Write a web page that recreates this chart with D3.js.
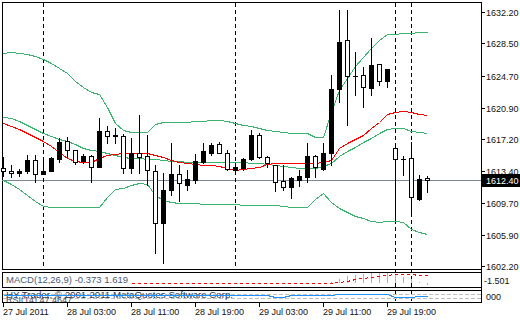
<!DOCTYPE html>
<html>
<head>
<meta charset="utf-8">
<script src="https://cdn.jsdelivr.net/npm/d3@7"></script>
<style>
  body { margin: 0; background: #fff; }
  svg { display: block; }
  text { font-family: "Liberation Sans", Arial, sans-serif; }
</style>
</head>
<body>
<div id="chart"></div>
<script>
// XAUUSD H1, 27 Jul 2011 19:00 .. 29 Jul 2011
var open = [1613.78,1613.46,1613.15,1613.46,1614.72,1613.07,1613.46,1614.88,1616.93,1615.90,
  1614.64,1615.19,1613.86,1618.15,1617.56,1617.56,1613.74,1615.58,1615.19,1613.46,
  1607.32,1611.18,1613.07,1611.77,1612.36,1614.52,1615.58,1616.61,1615.51,1613.54,
  1613.74,1614.80,1617.67,1615.04,1614.10,1612.24,1611.57,1612.36,1612.75,1615.19,
  1613.62,1615.51,1623.07,1628.89,1624.64,1624.76,1623.19,1626.06,1624.09,1616.10,
  1614.80,1614.92,1610.12,1612.60];
var high = [1615.08,1614.13,1613.66,1615.31,1615.31,1614.84,1615.11,1617.32,1617.44,1615.90,
  1615.43,1615.31,1619.65,1618.74,1618.54,1617.76,1617.28,1620.04,1617.67,1614.13,
  1613.19,1616.73,1614.13,1613.54,1615.43,1616.69,1616.77,1616.88,1615.90,1614.33,
  1614.92,1618.26,1617.87,1615.19,1614.10,1614.13,1612.75,1613.54,1616.73,1615.31,
  1616.69,1624.76,1632.44,1632.44,1627.51,1625.74,1629.09,1626.06,1625.43,1616.49,
  1615.19,1616.88,1612.95,1612.80];
var low = [1612.83,1612.71,1612.83,1613.19,1612.16,1613.07,1613.42,1614.52,1615.11,1614.21,
  1614.33,1612.16,1613.86,1616.77,1616.77,1613.15,1613.15,1613.15,1611.77,1603.70,
  1602.59,1610.59,1609.92,1611.18,1612.04,1614.33,1615.31,1615.51,1613.54,1613.34,
  1613.54,1614.72,1614.92,1613.93,1611.10,1611.18,1610.27,1611.65,1612.16,1612.75,
  1613.54,1614.13,1621.61,1618.86,1622.40,1620.95,1622.40,1623.58,1623.38,1607.64,
  1612.95,1608.23,1610.00,1610.98];
var close = [1613.42,1613.15,1613.46,1614.72,1613.07,1613.46,1614.99,1616.88,1615.90,1614.52,
  1615.19,1613.86,1618.15,1617.56,1617.71,1613.74,1615.58,1615.11,1613.54,1607.32,
  1611.18,1613.07,1611.97,1612.48,1614.60,1615.78,1616.49,1615.51,1613.62,1613.86,
  1614.80,1617.67,1615.11,1614.33,1612.16,1611.57,1612.56,1612.83,1615.19,1613.86,
  1615.51,1623.07,1628.69,1624.64,1624.64,1623.31,1625.94,1624.05,1625.43,1614.80,
  1614.80,1610.32,1612.44,1612.40];

// Bollinger bands (green) and moving average (red)
var bandUpper = [1627.36,1627.48,1627.36,1627.24,1627.00,1626.65,1626.18,1625.59,1625.00,1624.05,
  1623.34,1622.75,1622.52,1621.00,1619.09,1618.27,1618.03,1618.03,1618.03,1618.97,
  1619.21,1619.21,1619.21,1619.21,1619.33,1619.33,1619.45,1619.45,1619.33,1619.09,
  1618.86,1618.74,1618.50,1618.27,1618.15,1618.03,1617.91,1617.91,1617.91,1617.44,
  1617.44,1620.39,1622.99,1624.41,1625.82,1626.89,1627.95,1628.89,1629.60,1629.60,
  1629.72,1629.72,1629.84,1629.84];
var bandMiddle = [1619.80,1619.69,1619.33,1618.86,1618.38,1617.91,1617.56,1617.20,1616.97,1616.61,
  1616.14,1615.90,1615.79,1615.55,1615.31,1615.08,1614.96,1614.96,1614.84,1614.84,
  1614.72,1614.60,1614.60,1614.49,1614.49,1614.49,1614.49,1614.49,1614.49,1614.49,
  1614.49,1614.37,1614.37,1614.25,1614.13,1614.01,1613.90,1613.78,1613.78,1613.78,
  1614.01,1614.37,1615.20,1615.79,1616.26,1616.85,1617.32,1617.91,1618.38,1618.50,
  1618.50,1618.15,1618.03,1617.91];
var bandLower = [1612.36,1611.89,1611.30,1610.59,1609.88,1609.29,1609.17,1609.17,1609.17,1609.17,
  1609.17,1609.17,1609.17,1610.35,1611.30,1611.42,1611.77,1612.01,1611.89,1610.59,
  1610.00,1609.76,1609.64,1609.64,1609.64,1609.53,1609.53,1609.53,1609.53,1609.53,
  1609.41,1609.41,1609.41,1609.41,1609.41,1609.29,1609.17,1609.17,1609.17,1610.12,
  1610.82,1609.76,1609.05,1608.58,1608.11,1607.87,1607.52,1607.40,1607.52,1607.52,
  1607.40,1606.57,1606.22,1605.98];
var maRed = [1619.09,1618.74,1618.38,1617.91,1617.44,1616.97,1616.38,1615.67,1614.96,1614.60,
  1614.49,1614.49,1614.96,1615.31,1615.43,1615.55,1615.55,1615.55,1615.55,1615.31,
  1615.08,1614.72,1614.49,1614.37,1614.25,1614.13,1614.13,1614.01,1613.78,1613.54,
  1613.66,1613.78,1613.90,1614.25,1614.37,1614.37,1614.37,1614.37,1614.37,1614.37,
  1614.49,1614.72,1616.14,1616.73,1617.20,1617.67,1618.50,1619.21,1620.15,1620.39,
  1620.51,1620.39,1620.15,1620.04];

// MACD(12,26,9) pane
var macdMain = [0,0,0,0,0,0,0,0,0,0, 0,0,0,0,0,0,0,0,0,0,
  0,0,0,0,0,0,0,0,0,0, 0,0,0,0,0,0,0,0,0,0,
  0,0.2,0.9,1.4,1.7,1.9,2.0,2.1,2.1,1.8, 1.3,0.8,0.2,-0.373];
var macdSignal = [null,null,null,null,null,null,null,null,null,null, null,null,null,null,null,null,0.05,0.05,0.05,0.05,
  0.05,0.05,0.05,0.05,0.05,0.05,0.05,0.05,0.05,0.05, 0.05,0.05,0.05,0.05,0.05,0.05,0.05,0.05,0.05,0.05,
  0.05,0.05,0.3,0.5,0.8,1.1,1.35,1.55,1.75,1.84, 1.86,1.84,1.75,1.619];

// RSI(14) pane
var rsi = [60,60,60,60,60,60,60,60,60,60, 60,60,60,60,60,60,60,60,60,60,
  60,60,60,60,60,60,60,60,60,60, 60,60,60,58,44,44,58,58,58,58,
  58,62,65,65,65,65,65,65,65,44, 44,44,46,47.46];
var rsiLevels = [70, 30];

var priceTicks = [1632.20, 1628.50, 1624.70, 1620.90, 1617.20, 1613.40, 1609.70, 1605.90, 1602.20];
var lastPrice = 1612.40;
var timeTickIndex = [0, 8, 16, 24, 32, 40, 48];
var timeTickLabels = ["27 Jul 2011", "28 Jul 03:00", "28 Jul 11:00", "28 Jul 19:00",
  "29 Jul 03:00", "29 Jul 11:00", "29 Jul 19:00"];
var separatorIndex = [5, 29, 49, 51];
var separatorFull = [false, false, true, true];

// layout
var width = 520, height = 320;
var paneLeft = 2, paneRight = 481;
var mainTop = 2, mainBottom = 269;
var macdTop = 272, macdBottom = 287;
var rsiTop = 290, rsiBottom = 302;

var svg = d3.select("#chart").append("svg")
  .attr("width", width).attr("height", height)
  .style("shape-rendering", "crispEdges");

var x = d3.scaleLinear().domain([0, close.length - 1]).range([3, 427]);
var y = d3.scaleLinear().domain([1601.85, 1633.38]).range([mainBottom, mainTop]);
var yM = d3.scaleLinear().domain([-0.76, 2.27]).range([macdBottom, macdTop]);
var yR = d3.scaleLinear().domain([0, 100]).range([rsiBottom, rsiTop]);
var px = function(i) { return Math.round(x(i)) + 0.5; };

// pane frames
[[mainTop, mainBottom], [macdTop, macdBottom], [rsiTop, rsiBottom]].forEach(function(p) {
  svg.append("rect")
    .attr("x", paneLeft + 0.5).attr("y", p[0] + 0.5)
    .attr("width", paneRight - paneLeft).attr("height", p[1] - p[0])
    .attr("fill", "none").attr("stroke", "#000");
});

// last price line
svg.append("line")
  .attr("x1", paneLeft).attr("x2", paneRight)
  .attr("y1", Math.round(y(lastPrice)) + 0.5).attr("y2", Math.round(y(lastPrice)) + 0.5)
  .attr("stroke", "#778899");

// period separators
separatorIndex.forEach(function(d, k) {
  svg.append("line")
    .attr("x1", px(d)).attr("x2", px(d))
    .attr("y1", mainTop + 1).attr("y2", separatorFull[k] ? rsiBottom : mainBottom)
    .attr("stroke", "#000").attr("stroke-dasharray", "4,3");
});

// indicator lines
function drawLine(values, scale, color, dash) {
  var line = d3.line()
    .defined(function(d) { return d !== null; })
    .x(function(d, i) { return px(i); })
    .y(function(d) { return Math.round(scale(d)) + 0.5; });
  svg.append("path").datum(values)
    .attr("d", line).attr("fill", "none")
    .attr("stroke", color).attr("stroke-width", 1)
    .attr("stroke-dasharray", dash || null);
}
drawLine(bandUpper, y, "#3cb371");
drawLine(bandMiddle, y, "#3cb371");
drawLine(bandLower, y, "#3cb371");
drawLine(maRed, y, "#ff0000");

// candles
var candles = svg.append("g");
close.forEach(function(c, i) {
  var o = open[i];
  var cx = Math.round(x(i));
  candles.append("line")
    .attr("x1", cx + 0.5).attr("x2", cx + 0.5)
    .attr("y1", Math.round(y(high[i]))).attr("y2", Math.round(y(low[i])) + 1)
    .attr("stroke", "#000");
  var top = Math.round(y(Math.max(o, c)));
  var bot = Math.round(y(Math.min(o, c)));
  if (bot - top < 2) {
    candles.append("rect").attr("x", cx - 2).attr("y", top)
      .attr("width", 5).attr("height", Math.max(1, bot - top + 1)).attr("fill", "#000");
  } else if (c > o) {
    candles.append("rect").attr("x", cx - 2).attr("y", top)
      .attr("width", 5).attr("height", bot - top + 1).attr("fill", "#000");
  } else {
    candles.append("rect").attr("x", cx - 1.5).attr("y", top + 0.5)
      .attr("width", 4).attr("height", bot - top)
      .attr("fill", "#fff").attr("stroke", "#000");
  }
});

// MACD pane
svg.append("g").selectAll("line")
  .data(macdMain.map(function(v, i) { return [i, v]; }).filter(function(d) { return d[1] !== 0; }))
  .join("line")
  .attr("x1", function(d) { return px(d[0]); }).attr("x2", function(d) { return px(d[0]); })
  .attr("y1", Math.round(yM(0))).attr("y2", function(d) { return Math.round(yM(d[1])); })
  .attr("stroke", "#b4b4b4");
drawLine(macdSignal, yM, "#ff0000", "3,3");
svg.append("text").attr("x", 6).attr("y", macdTop + 11)
  .attr("font-size", "9.5px").attr("fill", "#4a5a78")
  .text("MACD(12,26,9) -0.373 1.619");

// RSI pane
rsiLevels.forEach(function(l) {
  svg.append("line")
    .attr("x1", paneLeft + 1).attr("x2", paneRight)
    .attr("y1", Math.round(yR(l)) + 0.5).attr("y2", Math.round(yR(l)) + 0.5)
    .attr("stroke", "#c0c0c0").attr("stroke-dasharray", "4,2");
});
svg.append("clipPath").attr("id", "rsiclip").append("rect")
  .attr("x", paneLeft + 1).attr("y", rsiTop + 1)
  .attr("width", paneRight - paneLeft - 1).attr("height", rsiBottom - rsiTop - 1);
svg.append("text").attr("x", 6).attr("y", rsiBottom + 1)
  .attr("clip-path", "url(#rsiclip)")
  .attr("font-size", "9px").attr("fill", "#3a4660")
  .text("RSI(14) 47.4647");
svg.append("text").attr("x", 6).attr("y", rsiTop + 8)
  .attr("font-size", "9.7px").attr("fill", "#2c3a58")
  .text("HY Trader, \u00a9 2001-2011 MetaQuotes Software Corp.");
drawLine(rsi, yR, "#1e90ff");

// right price axis
svg.append("line")
  .attr("x1", paneRight + 0.5).attr("x2", paneRight + 0.5)
  .attr("y1", mainTop).attr("y2", rsiBottom + 1)
  .attr("stroke", "#000");
var axisR = svg.append("g").style("font-size", "9px");
priceTicks.forEach(function(t) {
  var ty = Math.round(y(t)) + 0.5;
  axisR.append("line").attr("x1", paneRight).attr("x2", paneRight + 4)
    .attr("y1", ty).attr("y2", ty).attr("stroke", "#000");
  axisR.append("text").attr("x", paneRight + 5).attr("y", ty).attr("dy", "0.35em")
    .attr("fill", "#111").text(t.toFixed(2));
});
axisR.append("text").attr("x", paneRight + 3).attr("y", macdTop + 9).attr("dy", "0.35em")
  .attr("fill", "#111").text("-1.501");
axisR.append("text").attr("x", paneRight + 5).attr("y", rsiTop + 7).attr("dy", "0.35em")
  .attr("fill", "#111").text("000");
var ly = Math.round(y(lastPrice));
axisR.append("rect").attr("x", paneRight + 1).attr("y", ly - 6)
  .attr("width", width - paneRight - 1).attr("height", 13).attr("fill", "#000");
axisR.append("text").attr("x", paneRight + 5).attr("y", ly + 0.5).attr("dy", "0.35em")
  .attr("fill", "#fff").text(lastPrice.toFixed(2));

// time axis
var axisB = svg.append("g").style("font-size", "9px");
timeTickIndex.forEach(function(d, k) {
  axisB.append("line").attr("x1", px(d)).attr("x2", px(d))
    .attr("y1", rsiBottom + 1).attr("y2", rsiBottom + 5).attr("stroke", "#000");
  axisB.append("text").attr("x", Math.round(x(d))).attr("y", rsiBottom + 13)
    .attr("fill", "#111").text(timeTickLabels[k]);
});
</script>
</body>
</html>
